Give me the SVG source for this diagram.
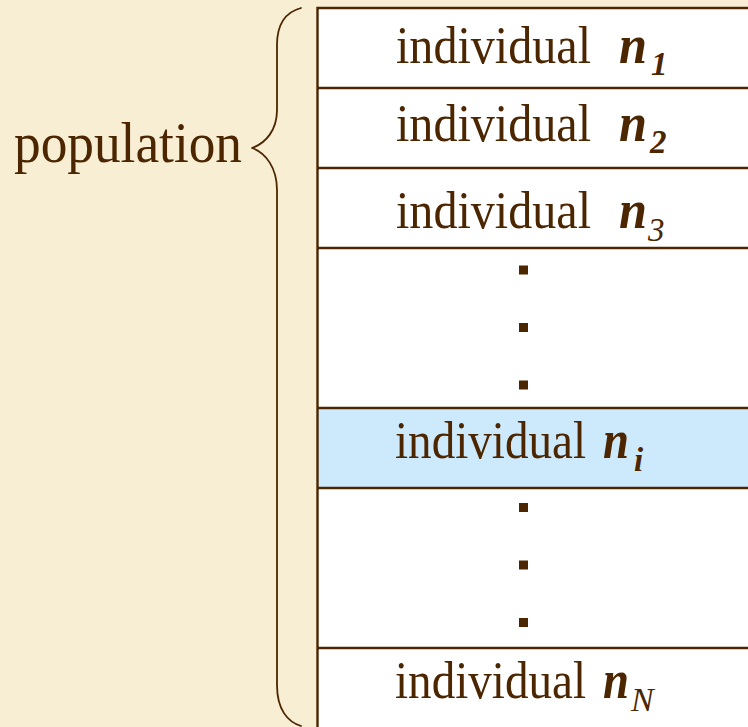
<svg xmlns="http://www.w3.org/2000/svg" width="748" height="727" viewBox="0 0 748 727">
  <style>
    .txt { font-family: "Liberation Serif", "Times New Roman", serif; fill: #4b2600; font-size: 52px; }
    .var { font-size: 54px; font-weight: bold; font-style: italic; }
    .sub { font-size: 33px; font-style: italic; }
    .b { font-weight: bold; }
    .row { fill: #ffffff; }
    .hl { fill: #cdeafc; }
    .rule { stroke: #4b2600; stroke-width: 2.4; fill: none; }
    .dot { fill: #4b2600; }
    .brace { stroke: #4b2600; stroke-width: 1.8; fill: none; stroke-linecap: round; stroke-linejoin: round; }
  </style>

  <!-- page background -->
  <rect x="0" y="0" width="748" height="727" fill="#f8eed4"/>

  <!-- table body -->
  <rect class="row" x="317" y="8" width="440" height="730"/>

  <!-- each row label is one text run: word, variable, subscript -->
  <g id="row-n1">
    <text class="txt" y="63"><tspan x="396" textLength="195" lengthAdjust="spacingAndGlyphs">individual</tspan><tspan class="var" x="619" textLength="28" lengthAdjust="spacingAndGlyphs">n</tspan><tspan class="sub b" x="651" y="75">1</tspan></text>
  </g>

  <g id="row-n2">
    <text class="txt" y="141"><tspan x="396" textLength="195" lengthAdjust="spacingAndGlyphs">individual</tspan><tspan class="var" x="619" textLength="28" lengthAdjust="spacingAndGlyphs">n</tspan><tspan class="sub b" x="650" y="153">2</tspan></text>
  </g>

  <g id="row-n3">
    <text class="txt" y="228"><tspan x="396" textLength="195" lengthAdjust="spacingAndGlyphs">individual</tspan><tspan class="var" x="619" textLength="28" lengthAdjust="spacingAndGlyphs">n</tspan><tspan class="sub" x="648" y="241">3</tspan></text>
  </g>

  <g id="gap-upper">
    <rect class="dot" x="519" y="265.5" width="9" height="9"/>
    <rect class="dot" x="519" y="323" width="9" height="9"/>
    <rect class="dot" x="519" y="380.5" width="9" height="9"/>
  </g>

  <g id="row-ni">
    <rect class="hl" x="317" y="408" width="440" height="80"/>
    <text class="txt" y="458"><tspan x="395" textLength="191" lengthAdjust="spacingAndGlyphs">individual</tspan><tspan class="var" x="603" textLength="26" lengthAdjust="spacingAndGlyphs">n</tspan><tspan class="sub b" x="634" y="471">i</tspan></text>
  </g>

  <g id="gap-lower">
    <rect class="dot" x="519" y="503" width="9" height="9"/>
    <rect class="dot" x="519" y="560.5" width="9" height="9"/>
    <rect class="dot" x="519" y="618" width="9" height="9"/>
  </g>

  <g id="row-nN">
    <text class="txt" y="698"><tspan x="395" textLength="191" lengthAdjust="spacingAndGlyphs">individual</tspan><tspan class="var" x="603" textLength="26" lengthAdjust="spacingAndGlyphs">n</tspan><tspan class="sub" x="631" y="711" style="font-size:34px">N</tspan></text>
  </g>

  <!-- table rules -->
  <g id="rules">
    <path class="rule" d="M317.5 727 V8 H760"/>
    <path class="rule" d="M317 88 H760 M317 168 H760 M317 248 H760 M317 408 H760 M317 488 H760 M317 648 H760"/>
  </g>

  <g id="population">
    <text class="txt" x="14" y="162" style="font-size:57px" textLength="228" lengthAdjust="spacingAndGlyphs">population</text>
  </g>

  <g id="connectors">
    <path class="brace" d="M301 8 C286 12 277 24 277 45 V110 C277 130 266 143 252 148 C266 153 277 168 277 190 V685 C277 710 288 722 301 726"/>
  </g>
</svg>
